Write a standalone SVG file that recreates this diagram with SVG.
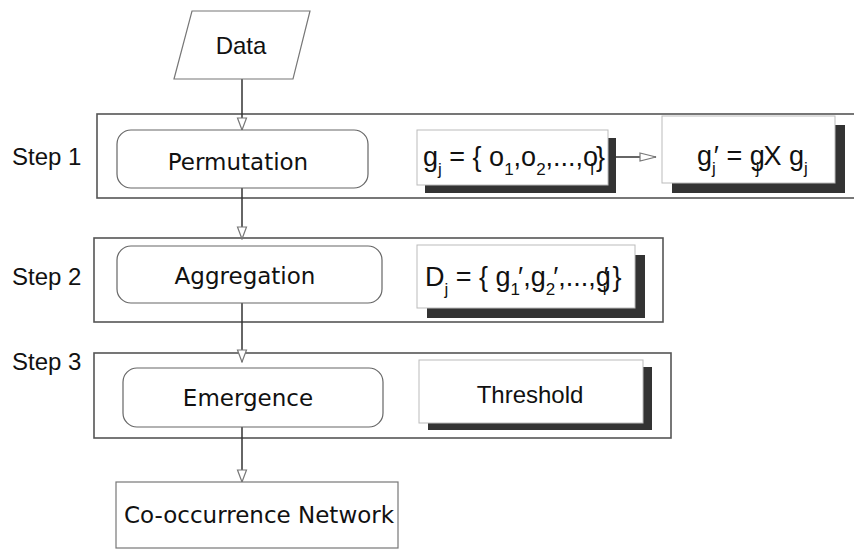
<svg xmlns="http://www.w3.org/2000/svg" width="854" height="549" viewBox="0 0 854 549">
  <defs>
    <marker id="openTri" viewBox="0 0 14 12" refX="13" refY="6" markerWidth="14" markerHeight="12" markerUnits="userSpaceOnUse" orient="auto">
      <path d="M1,1.5 L13,6 L1,10.5 Z" fill="#fff" stroke="#777" stroke-width="1.2"/>
    </marker>
    <marker id="openChev" viewBox="0 0 18 12" refX="17" refY="6" markerWidth="18" markerHeight="12" markerUnits="userSpaceOnUse" orient="auto">
      <path d="M1,2 L17,6 L1,10 Z" fill="#fff" stroke="#777" stroke-width="1.2"/>
    </marker>
  </defs>
  <style>
    .step { fill: none; stroke: #555; stroke-width: 1.6; }
    .proc { fill: #fff; stroke: #666; stroke-width: 1.2; }
    .plain { fill: #fff; stroke: #777; stroke-width: 1.2; }
    .shadow { fill: #333; }
    .panel { fill: #fff; stroke: #bbb; stroke-width: 1; }
    .lbl { font-family: "Liberation Sans", Arial, sans-serif; font-size: 24px; fill: #111; }
    .math { font-family: "Liberation Sans", Arial, sans-serif; font-size: 27px; fill: #111; }
    .vlbl { font-family: "DejaVu Sans", Verdana, sans-serif; font-size: 23px; fill: #111; }
    .sub { font-size: 17px; }
    .conn { stroke: #333; stroke-width: 1.5; fill: none; }
  </style>

  <rect width="854" height="549" fill="#fff"/>

  <!-- step frames -->
  <g id="step1">
    <rect class="step" x="97" y="114" width="765" height="84"/>
    <text class="lbl" x="12" y="165">Step 1</text>
  </g>
  <g id="step2">
    <rect class="step" x="94" y="238" width="569" height="84"/>
    <text class="lbl" x="12" y="285">Step 2</text>
  </g>
  <g id="step3">
    <rect class="step" x="94" y="353" width="577" height="85"/>
    <text class="lbl" x="12" y="370">Step 3</text>
  </g>

  <!-- connectors -->
  <g id="connectors">
    <line class="conn" x1="242" y1="79" x2="242" y2="130" marker-end="url(#openTri)"/>
    <line class="conn" x1="242" y1="188" x2="242" y2="239" marker-end="url(#openTri)"/>
    <line class="conn" x1="242" y1="303" x2="242" y2="362" marker-end="url(#openTri)"/>
    <line class="conn" x1="242" y1="427" x2="242" y2="482" marker-end="url(#openTri)"/>
    <line class="conn" x1="616" y1="157" x2="656" y2="157" marker-end="url(#openChev)"/>
  </g>

  <g id="data">
    <path class="plain" d="M192,11 L310,11 L293,79 L174,79 Z"/>
    <text class="lbl" x="241" y="54" font-size="25" text-anchor="middle">Data</text>
  </g>

  <g id="permutation">
    <rect class="proc" x="117" y="130" width="251" height="58" rx="14"/>
    <text class="vlbl" x="238" y="170" text-anchor="middle">Permutation</text>
  </g>

  <g id="aggregation">
    <rect class="proc" x="117" y="246" width="265" height="57" rx="14"/>
    <text class="vlbl" x="245" y="284" text-anchor="middle">Aggregation</text>
  </g>

  <g id="emergence">
    <rect class="proc" x="123" y="368" width="260" height="59" rx="14"/>
    <text class="vlbl" x="248" y="406" text-anchor="middle">Emergence</text>
  </g>

  <g id="cooccurrence">
    <rect class="plain" x="116" y="482" width="282" height="66"/>
    <text class="vlbl" x="259" y="523" text-anchor="middle">Co-occurrence Network</text>
  </g>

  <g id="group-set">
    <rect class="shadow" x="425" y="138" width="191" height="55"/>
    <rect class="panel" x="417" y="130" width="191" height="55"/>
    <text class="math" x="423" y="166">g<tspan class="sub" dy="9">j</tspan><tspan dy="-9"> = { o</tspan><tspan class="sub" dy="9">1</tspan><tspan dy="-9">,o</tspan><tspan class="sub" dy="9">2</tspan><tspan dy="-9">,...,o</tspan><tspan class="sub" dy="9" dx="-8">i</tspan><tspan dy="-9" dx="2">}</tspan></text>
  </g>

  <g id="product">
    <rect class="shadow" x="672" y="125" width="173" height="68"/>
    <rect class="panel" x="662" y="116" width="173" height="67"/>
    <text class="math" x="697" y="165">g<tspan class="sub" dy="9">j</tspan><tspan dy="-9" dx="-2">′</tspan><tspan> = g</tspan><tspan class="sub" dy="9" dx="-9">j</tspan><tspan dy="-9" dx="4">X g</tspan><tspan class="sub" dy="9">j</tspan></text>
  </g>

  <g id="dataset">
    <rect class="shadow" x="427" y="255" width="218" height="63"/>
    <rect class="panel" x="417" y="245" width="218" height="63"/>
    <text class="math" x="425" y="286">D<tspan class="sub" dy="9">j</tspan><tspan dy="-9"> = { g</tspan><tspan class="sub" dy="9">1</tspan><tspan dy="-9" dx="-2">′</tspan><tspan>,g</tspan><tspan class="sub" dy="9">2</tspan><tspan dy="-9" dx="-2">′</tspan><tspan>,...,g</tspan><tspan class="sub" dy="9" dx="-8">i</tspan><tspan dy="-9" dx="-3">′</tspan><tspan dx="4">}</tspan></text>
  </g>

  <g id="threshold">
    <rect class="shadow" x="428" y="367" width="224" height="63"/>
    <rect class="panel" x="419" y="360" width="224" height="63"/>
    <text class="lbl" x="530" y="403" text-anchor="middle">Threshold</text>
  </g>
</svg>
